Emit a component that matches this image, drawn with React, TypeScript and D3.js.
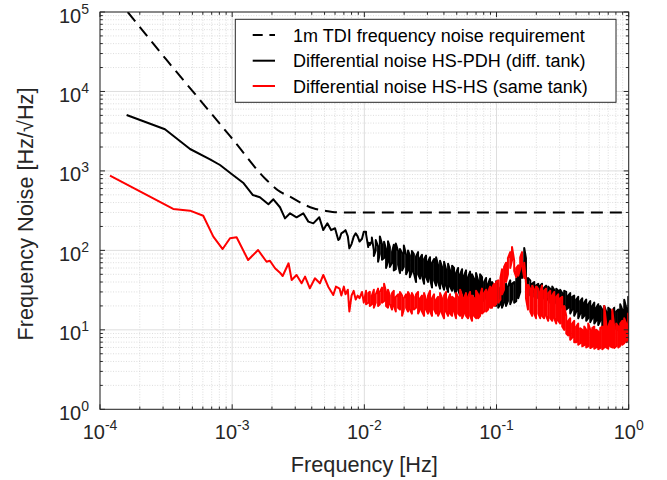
import React from 'react';
import * as d3 from 'd3';

const W = 667;
const H = 480;
const M = { left: 100, right: 628.7, top: 12, bottom: 409.3 };

// 1m TDI requirement (dashed)
const reqFreq = [1.62e-4, 3.19e-4, 5.71e-4, 1.02e-3, 1.82e-3, 2.3e-3, 2.74e-3, 3.36e-3, 4.11e-3, 5.03e-3, 6.54e-3, 1];
const reqVal = [1e5, 24900, 7810, 2450, 769, 548, 474, 391, 339, 316, 300, 300];

// Low-frequency part of HS-PDH (black)
const pdhLowFreq = [1.59e-4, 3.1e-4, 4.8e-4, 6.8e-4, 8.09e-4, 9.9e-4, 1.21e-3, 1.43e-3, 1.62e-3, 1.88e-3, 2.05e-3, 2.3e-3, 2.51e-3, 2.74e-3, 3.07e-3, 3.45e-3, 3.77e-3, 4.11e-3, 4.56e-3, 4.89e-3, 5.25e-3, 5.6e-3, 6.0e-3, 6.35e-3];
const pdhLowVal = [5060, 3340, 1888, 1400, 1187, 915, 711, 498, 466, 380, 439, 349, 253, 293, 261, 293, 230, 219, 261, 180, 219, 180, 190, 135];

// Low-frequency part of HS-HS (red)
const hsLowFreq = [1.19e-4, 3.58e-4, 4.8e-4, 6.04e-4, 7.2e-4, 8.47e-4, 9.63e-4, 1.08e-3, 1.32e-3, 1.57e-3, 1.82e-3, 1.93e-3, 2.11e-3, 2.3e-3, 2.41e-3, 2.67e-3, 2.82e-3, 3.07e-3, 3.35e-3, 3.56e-3, 3.87e-3, 4.23e-3, 4.61e-3, 4.89e-3, 5.33e-3, 5.82e-3, 6.1e-3];
const hsLowVal = [871, 332, 316, 273, 149, 104, 142, 146, 75.7, 101, 72, 74, 59.5, 52.4, 47.6, 68.8, 42.4, 49, 38.5, 46.7, 33.3, 44.5, 38.5, 49, 34.9, 27.4, 35];

// Mid-frequency (single trace) 6.5 mHz – 10 mHz
const midFreq = [0.0065, 0.0067, 0.007, 0.0072, 0.0075, 0.0077, 0.008, 0.0083, 0.0086, 0.0089, 0.0092, 0.0096, 0.0099];
const pdhMidVal = [140, 164, 172, 180, 150, 106, 120, 148, 164, 150, 129, 140, 172];
const hsMidVal = [33, 27, 35, 28, 32, 17, 27, 31, 24, 27, 25, 30, 22];

// High-frequency dense region: per-bin upper / lower envelope of the noisy trace
const hfMant = [1.03, 1.07, 1.10, 1.14, 1.18, 1.22, 1.27, 1.31, 1.36, 1.41, 1.46, 1.51, 1.56, 1.62, 1.67, 1.73, 1.80, 1.86, 1.93, 1.99, 2.07, 2.14, 2.21, 2.29, 2.37, 2.46, 2.55, 2.64, 2.73, 2.83, 2.93, 3.03, 3.14, 3.25, 3.37, 3.49, 3.61, 3.74, 3.87, 4.01, 4.15, 4.30, 4.45, 4.61, 4.77, 4.94, 5.12, 5.30, 5.49, 5.68, 5.88, 6.09, 6.31, 6.53, 6.76, 7.00, 7.25, 7.51, 7.77, 8.05, 8.34, 8.63, 8.94, 9.25, 9.58, 9.92];
const hfFreq = [...hfMant.map(m => m * 0.01), ...hfMant.map(m => m * 0.1), 1.0];

const pdhTop = [
  172, 125, 123, 145, 100, 135, 112, 150, 120, 128, 104, 130, 110, 96, 118, 122, 98, 104, 92, 115,
  88, 100, 86, 98, 90, 84, 95, 80, 88, 78, 86, 72, 82, 70, 78, 82, 66, 74, 62, 72,
  58, 68, 56, 64, 60, 52, 60, 50, 58, 48, 56, 46, 54, 50, 44, 52, 42, 50, 46, 40,
  45, 38, 44, 40, 36, 41,
  38, 34, 37, 32, 38, 35, 42, 38, 40, 44, 50, 55, 75, 107, 80, 45, 42, 38, 40, 36,
  38, 36, 38, 34, 36, 35, 33, 35, 32, 33, 31, 32, 29, 31, 30, 27, 29, 26, 27, 24,
  26, 23, 25, 22, 24, 21, 23, 20, 22, 19, 21, 20, 18, 20, 17, 19, 18, 17, 19, 17,
  18, 21, 18, 24, 19, 26, 24,
];
const pdhBot = [
  160, 110, 117, 130, 85, 100, 72, 90, 76, 80, 60, 72, 62, 70, 56, 58, 66, 52, 56, 62,
  50, 56, 46, 54, 52, 40, 50, 44, 48, 38, 46, 40, 44, 34, 42, 36, 40, 33, 38, 32,
  36, 30, 35, 31, 33, 28, 32, 27, 31, 26, 30, 26, 29, 25, 28, 24, 27, 25, 26, 23,
  25, 22, 24, 21, 23, 20,
  19, 21, 19, 22, 20, 23, 21, 24, 22, 23, 25, 30, 45, 60, 40, 30, 27, 29, 26, 28,
  25, 27, 24, 26, 23, 25, 22, 24, 21, 23, 20, 22, 19, 20, 18, 19, 16, 18, 15, 17,
  14, 16, 14, 15, 13, 14, 12.5, 14, 12, 13, 11.5, 13, 11, 12, 10.5, 12, 10.2, 11, 10, 11,
  9.8, 10.5, 9.8, 10, 10, 10, 11,
];

const hsTop = [
  31, 29, 30, 27, 32, 28, 33, 30, 34, 38, 30, 32, 27, 29, 31, 26, 28, 30, 27, 25,
  28, 30, 27, 29, 26, 28, 30, 25, 27, 29, 24, 27, 31, 25, 28, 24, 26, 29, 25, 27,
  30, 24, 28, 26, 25, 29, 26, 32, 27, 25, 29, 26, 30, 27, 25, 31, 28, 27, 33, 29,
  32, 30, 35, 34, 38, 40,
  42, 45, 58, 62, 70, 80, 95, 110, 75, 60, 65, 82, 95, 70, 40, 37, 33, 36, 32, 35,
  33, 30, 36, 31, 33, 29, 31, 27, 30, 26, 28, 25, 26, 20, 15, 13, 14, 12, 13, 11,
  12, 10.5, 10, 11, 10, 12, 10, 10.5, 11, 10, 9.5, 10.5, 11, 20, 12, 11, 13, 18, 11, 12,
  11, 12, 13, 14, 12, 16, 15,
];
const hsBot = [
  21, 22, 20, 21, 19, 22, 20, 21, 22, 23, 20, 19, 21, 18, 20, 17, 19, 18, 15, 18,
  19, 17, 18, 16, 18, 19, 16, 18, 17, 15, 18, 16, 17, 15, 18, 16, 15, 17, 16, 14,
  17, 15, 16, 15, 17, 14, 16, 15, 14, 16, 15, 14, 15, 13, 15, 14, 14, 15, 16, 17,
  17, 18, 19, 19, 20, 21,
  22, 24, 28, 32, 40, 50, 60, 75, 55, 46, 48, 58, 65, 45, 25, 18, 17, 15, 16, 14,
  16, 14, 15, 14, 15, 13, 14, 13, 14, 12, 13, 12, 11, 10, 9, 8.5, 7.5, 8, 7, 7,
  6.5, 6.8, 6.2, 6.4, 6, 6.2, 5.9, 6.1, 5.8, 6, 5.7, 5.9, 5.7, 6, 6, 5.8, 6.2, 6, 5.9, 6.2,
  6, 6.3, 6.5, 6.8, 7, 7.5, 8,
];

const xDecades = [1e-4, 1e-3, 1e-2, 1e-1, 1];
const xExps = ['-4', '-3', '-2', '-1', '0'];
const yDecades = [1, 10, 100, 1000, 1e4, 1e5];
const yExps = ['0', '1', '2', '3', '4', '5'];

const legendLabels = [
  '1m TDI frequency noise requirement',
  'Differential noise HS-PDH (diff. tank)',
  'Differential noise HS-HS (same tank)',
];

const FONT = "'Liberation Sans', Arial, Helvetica, sans-serif";
const AXC = '#262626';

function zip(a: number[], b: number[]): [number, number][] {
  return a.map((v, i) => [v, b[i]] as [number, number]);
}

// trace visiting each bin's upper and lower envelope in snake order
function snake(f: number[], top: number[], bot: number[]): [number, number][] {
  const out: [number, number][] = [];
  f.forEach((v, i) => {
    if (i % 2 === 0) {
      out.push([v, top[i]], [v, bot[i]]);
    } else {
      out.push([v, bot[i]], [v, top[i]]);
    }
  });
  return out;
}

function minorOf(decades: number[]) {
  const out: number[] = [];
  for (let i = 0; i < decades.length - 1; i++) {
    for (let k = 2; k <= 9; k++) out.push(decades[i] * k);
  }
  return out;
}

export default function App() {
  const x = d3.scaleLog().domain([1e-4, 1]).range([M.left, M.right]);
  const y = d3.scaleLog().domain([1, 1e5]).range([M.bottom, M.top]);

  const line = d3
    .line<[number, number]>()
    .x(d => x(d[0]))
    .y(d => y(d[1]));
  const smooth = d3
    .line<[number, number]>()
    .x(d => x(d[0]))
    .y(d => y(d[1]))
    .curve(d3.curveMonotoneX);

  const reqData = zip(reqFreq, reqVal);
  const pdhData = [
    ...zip(pdhLowFreq, pdhLowVal),
    ...zip(midFreq, pdhMidVal),
    ...snake(hfFreq, pdhTop, pdhBot),
  ];
  const hsData = [
    ...zip(hsLowFreq, hsLowVal),
    ...zip(midFreq, hsMidVal),
    ...snake(hfFreq, hsTop, hsBot),
  ];

  const xMinor = minorOf(xDecades);
  const yMinor = minorOf(yDecades);

  const majLen = 5;
  const minLen = 2.8;

  const leg = { x0: 235.3, y0: 19.3, x1: 616, y1: 102.3 };
  const rows = [35, 60.7, 86];

  return (
    <svg
      width={W}
      height={H}
      style={{ position: 'absolute', left: 0, top: 0, background: '#fff' }}
      fontFamily={FONT}
    >
      <defs>
        <clipPath id="plotclip">
          <rect x={M.left} y={M.top} width={M.right - M.left} height={M.bottom - M.top} />
        </clipPath>
      </defs>
      <rect x={0} y={0} width={W} height={H} fill="#fff" />

      {/* minor grid */}
      <g stroke="#d4d4d4" strokeWidth={0.8} strokeDasharray="1,1.6">
        {xMinor.map((v, i) => (
          <line key={'xm' + i} x1={x(v)} x2={x(v)} y1={M.top} y2={M.bottom} />
        ))}
        {yMinor.map((v, i) => (
          <line key={'ym' + i} x1={M.left} x2={M.right} y1={y(v)} y2={y(v)} />
        ))}
      </g>
      {/* major grid */}
      <g stroke="#dedede" strokeWidth={1}>
        {xDecades.map((v, i) => (
          <line key={'xg' + i} x1={x(v)} x2={x(v)} y1={M.top} y2={M.bottom} />
        ))}
        {yDecades.map((v, i) => (
          <line key={'yg' + i} x1={M.left} x2={M.right} y1={y(v)} y2={y(v)} />
        ))}
      </g>

      {/* data */}
      <g clipPath="url(#plotclip)" fill="none" strokeLinejoin="round">
        <path d={smooth(reqData) || ''} stroke="#000" strokeWidth={2} strokeDasharray="12,7" />
        <path d={line(pdhData) || ''} stroke="#000" strokeWidth={2} />
        <path d={line(hsData) || ''} stroke="#ff0000" strokeWidth={2} />
      </g>

      {/* axes box and ticks */}
      <g stroke={AXC} strokeWidth={1}>
        <rect x={M.left} y={M.top} width={M.right - M.left} height={M.bottom - M.top} fill="none" />
        {xDecades.map((v, i) => (
          <g key={'xt' + i}>
            <line x1={x(v)} x2={x(v)} y1={M.bottom} y2={M.bottom - majLen} />
            <line x1={x(v)} x2={x(v)} y1={M.top} y2={M.top + majLen} />
          </g>
        ))}
        {xMinor.map((v, i) => (
          <g key={'xmt' + i}>
            <line x1={x(v)} x2={x(v)} y1={M.bottom} y2={M.bottom - minLen} />
            <line x1={x(v)} x2={x(v)} y1={M.top} y2={M.top + minLen} />
          </g>
        ))}
        {yDecades.map((v, i) => (
          <g key={'yt' + i}>
            <line x1={M.left} x2={M.left + majLen} y1={y(v)} y2={y(v)} />
            <line x1={M.right} x2={M.right - majLen} y1={y(v)} y2={y(v)} />
          </g>
        ))}
        {yMinor.map((v, i) => (
          <g key={'ymt' + i}>
            <line x1={M.left} x2={M.left + minLen} y1={y(v)} y2={y(v)} />
            <line x1={M.right} x2={M.right - minLen} y1={y(v)} y2={y(v)} />
          </g>
        ))}
      </g>

      {/* tick labels */}
      <g fill={AXC}>
        {xDecades.map((v, i) => (
          <text key={'xl' + i} x={x(v)} y={439} textAnchor="middle" fontSize={20}>
            <tspan>10</tspan>
            <tspan dy={-9} fontSize={14}>{xExps[i]}</tspan>
          </text>
        ))}
        {yDecades.map((v, i) => (
          <text key={'yl' + i} x={89} y={y(v) + 10.5} textAnchor="end" fontSize={20}>
            <tspan>10</tspan>
            <tspan dy={-9} fontSize={14}>{yExps[i]}</tspan>
          </text>
        ))}
      </g>

      {/* axis titles */}
      <text x={(M.left + M.right) / 2} y={471.7} textAnchor="middle" fontSize={21.7} fill={AXC}>
        Frequency [Hz]
      </text>
      <text
        transform={`translate(33,214) rotate(-90)`}
        textAnchor="middle"
        fontSize={21.7}
        fill={AXC}
      >
        Frequency Noise [Hz/√Hz]
      </text>

      {/* legend */}
      <g>
        <rect
          x={leg.x0}
          y={leg.y0}
          width={leg.x1 - leg.x0}
          height={leg.y1 - leg.y0}
          fill="#fff"
          stroke={AXC}
          strokeWidth={1}
        />
        <line x1={252.7} x2={275} y1={rows[0]} y2={rows[0]} stroke="#000" strokeWidth={2} strokeDasharray="10,6.7" />
        <line x1={252.7} x2={275} y1={rows[1]} y2={rows[1]} stroke="#000" strokeWidth={2} />
        <line x1={252.7} x2={275} y1={rows[2]} y2={rows[2]} stroke="#ff0000" strokeWidth={2} />
        {legendLabels.map((t, i) => (
          <text key={'lg' + i} x={293} y={rows[i] + 6.5} fontSize={18} fill="#000">
            {t}
          </text>
        ))}
      </g>
    </svg>
  );
}
